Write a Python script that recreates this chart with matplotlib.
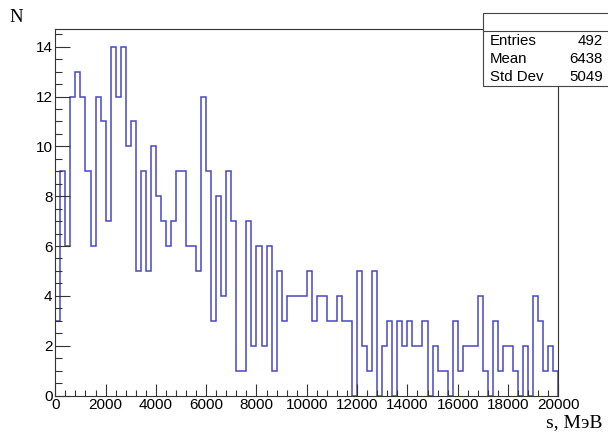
import matplotlib
matplotlib.use('Agg')
import matplotlib.pyplot as plt
import numpy as np
from matplotlib.patches import Rectangle
from matplotlib.lines import Line2D
from matplotlib.ticker import MultipleLocator

# counts per 200 MeV bin, 0..20000
counts = [3, 9, 6, 12, 13, 12, 9, 6, 12, 11, 7, 14, 12, 14, 10, 11, 5, 9, 5, 10,
          8, 7, 6, 7, 9, 9, 6, 6, 5, 12, 9, 3, 8, 4, 9, 7, 1, 1, 7, 2,
          6, 2, 6, 1, 5, 3, 4, 4, 4, 4, 5, 3, 4, 4, 3, 3, 4, 3, 3, 0,
          5, 2, 1, 5, 0, 2, 3, 0, 3, 2, 3, 2, 2, 3, 0, 2, 1, 1, 0, 3,
          1, 2, 2, 2, 4, 1, 0, 3, 1, 2, 2, 1, 0, 2, 0, 4, 3, 1, 2, 1]
x_min = 0
x_max = 20000
stat_names = ['Entries', 'Mean', 'Std Dev']
stat_values = ['492', '6438', '5049']

edges = np.linspace(x_min, x_max, len(counts) + 1)

W, H = 608, 434
fig = plt.figure(figsize=(W / 100, H / 100), dpi=100)
ax = fig.add_axes([55.3 / W, 1 - 395.5 / H, (558.3 - 55.3) / W, (395.5 - 29.3) / H])

ax.stairs(counts, edges, color='#4848c4', lw=1.1)
ax.set_xlim(x_min, x_max)
ax.set_ylim(0, 1.05 * max(counts))

ax.xaxis.set_major_locator(MultipleLocator(2000))
ax.xaxis.set_minor_locator(MultipleLocator(400))
ax.yaxis.set_major_locator(MultipleLocator(2))
ax.yaxis.set_minor_locator(MultipleLocator(0.5))
ax.tick_params(axis='x', which='major', direction='in', length=8.6, width=0.8,
               color='#333333', labelsize=11, pad=2)
ax.tick_params(axis='x', which='minor', direction='in', length=4.3, width=0.8,
               color='#333333')
ax.tick_params(axis='y', which='major', direction='in', length=10.8, width=0.8,
               color='#333333', labelsize=11, pad=2)
ax.tick_params(axis='y', which='minor', direction='in', length=5.2, width=0.8,
               color='#333333')
for lab in ax.get_xticklabels() + ax.get_yticklabels():
    lab.set_fontfamily('Liberation Sans')
for sp in ax.spines.values():
    sp.set_color('#333333')
    sp.set_linewidth(0.8)

fig.text(16 / W, 1 - 18 / H, 'N', family='Liberation Serif', fontsize=13.5,
         ha='center', va='center')
fig.text(603 / W, 1 - 423 / H, 's, МэВ', family='Liberation Serif', fontsize=14,
         ha='right', va='center')

# statistics box
bx0, by0, by1 = 483.3, 13.3, 85.7
box = Rectangle((bx0 / W, 1 - by1 / H), (W - bx0 + 2) / W, (by1 - by0) / H,
                transform=fig.transFigure, facecolor='white', edgecolor='#444444',
                lw=0.8, zorder=5)
fig.add_artist(box)
fig.add_artist(Line2D([bx0 / W, 1], [1 - 31 / H, 1 - 31 / H], transform=fig.transFigure,
                      color='#444444', lw=0.8, zorder=6))
for i, (name, val) in enumerate(zip(stat_names, stat_values)):
    y = 1 - (40.7 + i * 18.3) / H
    fig.text(490 / W, y, name, family='Liberation Sans', fontsize=10.8,
             ha='left', va='center', zorder=7)
    fig.text(603 / W, y, val, family='Liberation Sans', fontsize=10.8,
             ha='right', va='center', zorder=7)

fig.savefig('out.png', dpi=100)
